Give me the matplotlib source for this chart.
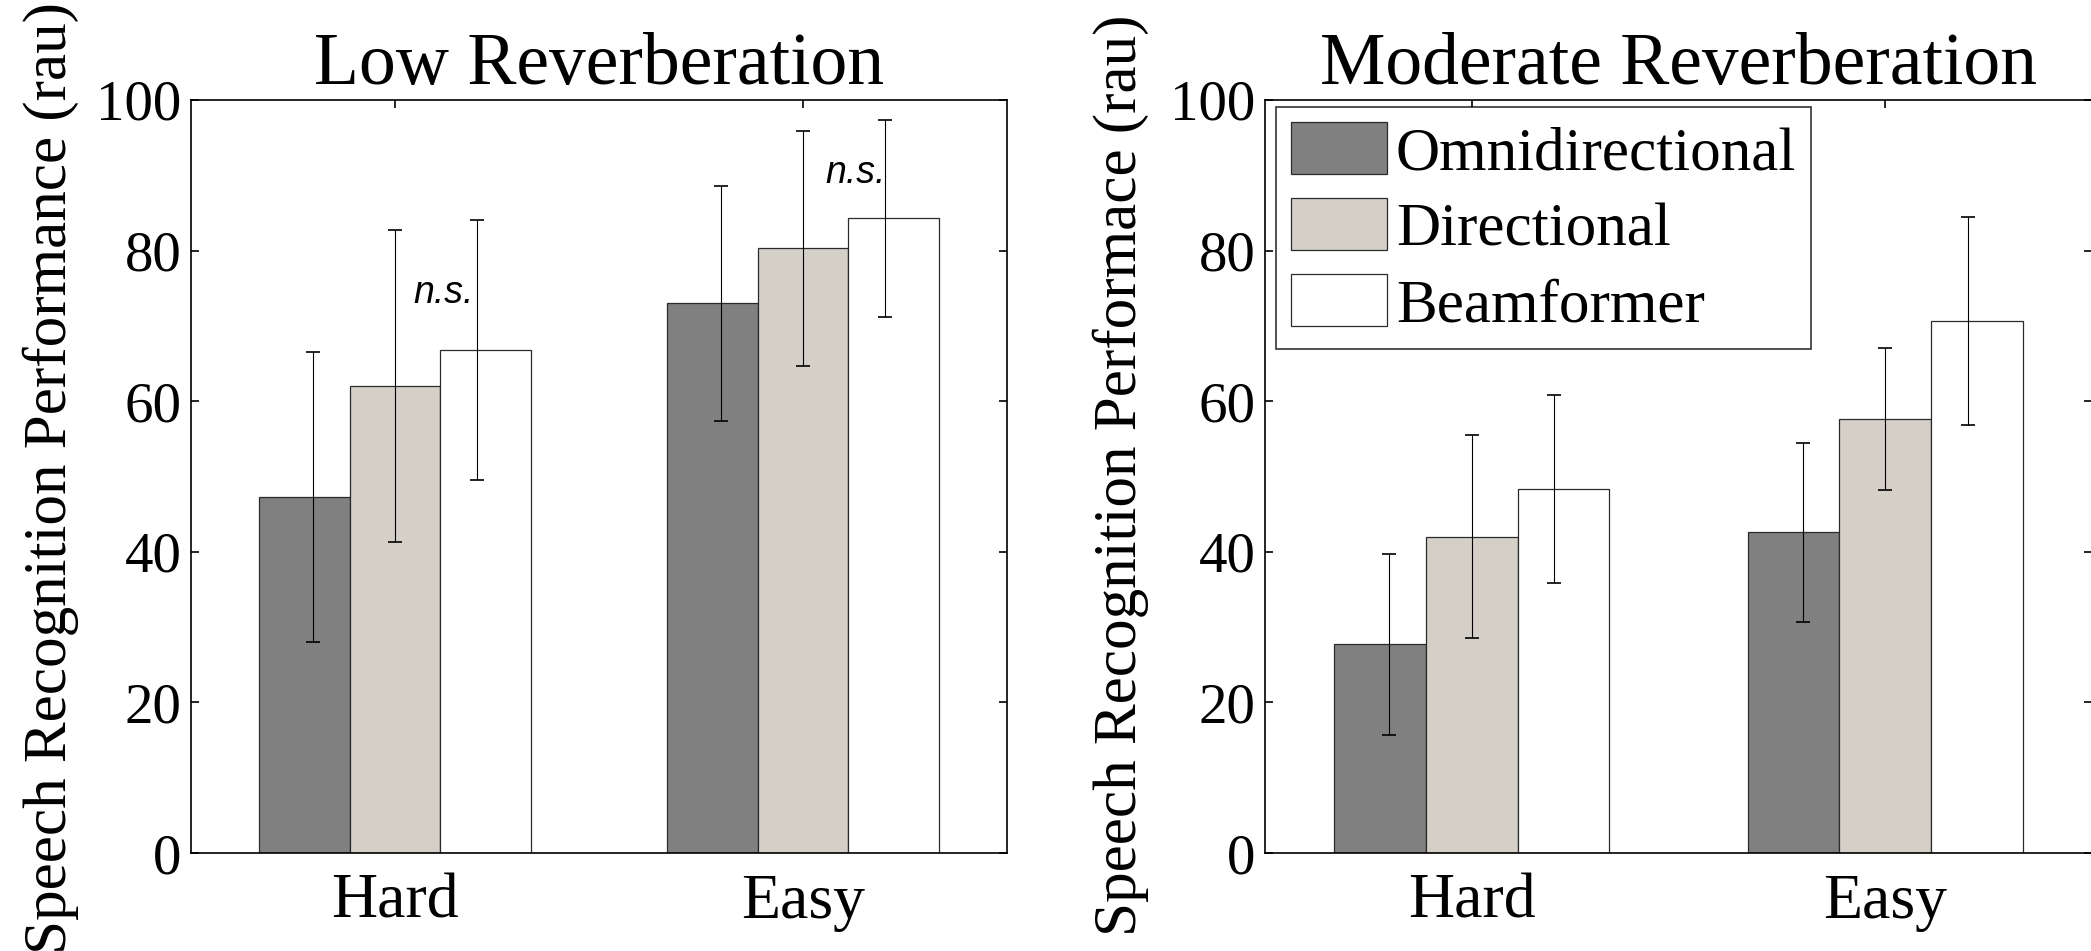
import numpy as np
import matplotlib
matplotlib.use("Agg")
import matplotlib.pyplot as plt
from matplotlib.patches import Patch

plt.rcParams["font.family"] = ["Liberation Serif", "DejaVu Serif"]

# ---- data -------------------------------------------------------------
conditions = ["Hard", "Easy"]
devices = ["Omnidirectional", "Directional", "Beamformer"]

low_means = {
    "Omnidirectional": [47.3, 73.0],
    "Directional": [62.0, 80.3],
    "Beamformer": [66.8, 84.3],
}
low_errs = {
    "Omnidirectional": [19.3, 15.6],
    "Directional": [20.7, 15.6],
    "Beamformer": [17.3, 13.1],
}
mod_means = {
    "Omnidirectional": [27.7, 42.6],
    "Directional": [42.0, 57.6],
    "Beamformer": [48.3, 70.6],
}
mod_errs = {
    "Omnidirectional": [12.0, 11.9],
    "Directional": [13.5, 9.4],
    "Beamformer": [12.5, 13.8],
}

colors = {"Omnidirectional": "#808080", "Directional": "#d4d0c8", "Beamformer": "#ffffff"}

titles = ["Low Reverberation", "Moderate Reverberation"]
ylabels = ["Speech Recognition Performance (rau)", "Speech Recognition Performace (rau)"]
yticks = [0, 20, 40, 60, 80, 100]

# non-significance markers on the low-reverberation panel: (x, y)
ns_positions = [(1.118, 73.1), (2.13, 89.0)]

# ---- figure -----------------------------------------------------------
W, H = 2091, 951
fig = plt.figure(figsize=(W / 100, H / 100), dpi=100)

ax_left = fig.add_axes([191 / W, 1 - 853 / H, 816 / W, 753 / H])
ax_right = fig.add_axes([1265 / W, 1 - 853 / H, 827 / W, 753 / H])

bar_w = 0.222
err_off = 0.2
x = np.arange(1, len(conditions) + 1)

for ax, means, errs, title in [
    (ax_left, low_means, low_errs, titles[0]),
    (ax_right, mod_means, mod_errs, titles[1]),
]:
    for i, dev in enumerate(devices):
        k = i - 1
        ax.bar(x + k * bar_w, means[dev], width=bar_w, color=colors[dev],
               edgecolor="#2a2a2a", linewidth=0.9, zorder=2, label=dev)
        ax.errorbar(x + k * err_off, means[dev], yerr=errs[dev], fmt="none",
                    ecolor="black", elinewidth=0.8, capsize=5, capthick=1.2,
                    zorder=3)
    ax.set_xlim(0.5, 2.5)
    ax.set_ylim(0, 100)
    ax.set_xticks(x)
    ax.set_xticklabels(conditions)
    ax.set_yticks(yticks)
    ax.tick_params(axis="both", which="both", direction="in", length=6,
                   width=1.2, top=True, right=True)
    ax.tick_params(axis="x", pad=15, labelsize=46)
    ax.tick_params(axis="y", pad=7, labelsize=41)
    for sp in ax.spines.values():
        sp.set_linewidth(1.2)
        sp.set_color("black")
    ax.set_title(title, fontsize=53, pad=11)

for (nx, ny) in ns_positions:
    ax_left.text(nx, ny, "n.s.", fontsize=27, fontstyle="italic",
                 family=["Liberation Sans", "DejaVu Sans"],
                 ha="center", va="baseline", zorder=4)

fig.text(51 / W, 0.497, ylabels[0], rotation=90, ha="center", va="center",
         fontsize=44)
fig.text(1121 / W, 0.5, ylabels[1], rotation=90, ha="center", va="center",
         fontsize=44)

handles = [Patch(facecolor=colors[d], edgecolor="#2a2a2a", linewidth=0.9)
           for d in devices]
leg = ax_right.legend(handles, devices, loc="upper left",
                      bbox_to_anchor=(0.0133, 0.9907), borderaxespad=0,
                      fontsize=44, frameon=True, fancybox=False,
                      handlelength=1.56, handleheight=0.93,
                      handletextpad=0.15, labelspacing=0.26, borderpad=0.25)
leg.get_frame().set_edgecolor("black")
leg.get_frame().set_linewidth(1.2)

fig.savefig("out.png", dpi=100)
